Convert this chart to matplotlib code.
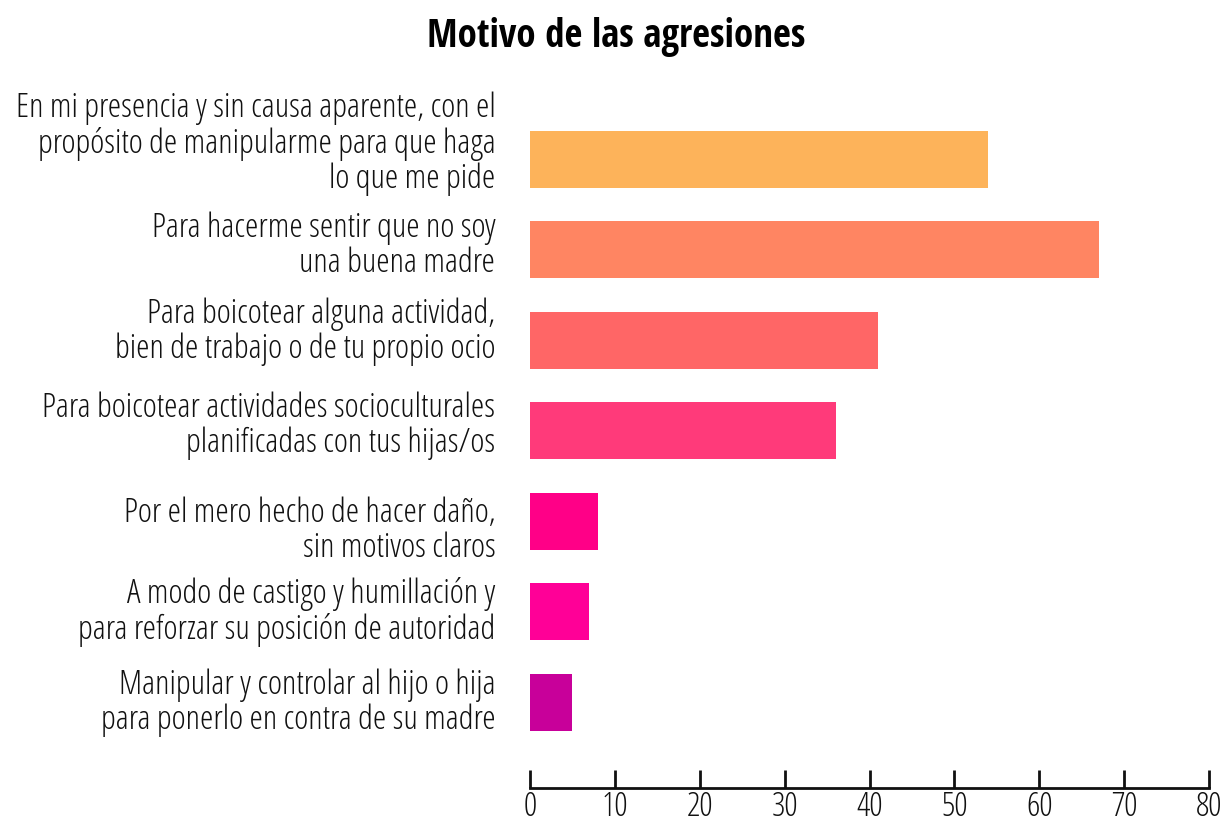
import matplotlib
matplotlib.use("Agg")
import matplotlib.pyplot as plt
import numpy as np

# Motivo de las agresiones - horizontal bars
labels = [
    "En mi presencia y sin causa aparente, con el\npropósito de manipularme para que haga\nlo que me pide",
    "Para hacerme sentir que no soy\nuna buena madre",
    "Para boicotear alguna actividad,\nbien de trabajo o de tu propio ocio",
    "Para boicotear actividades socioculturales\nplanificadas con tus hijas/os",
    "Por el mero hecho de hacer daño,\nsin motivos claros",
    "A modo de castigo y humillación y\npara reforzar su posición de autoridad",
    "Manipular y controlar al hijo o hija\npara ponerlo en contra de su madre",
]
values = [54, 67, 41, 36, 8, 7, 5]
colors = ["#FDB35A", "#FF8562", "#FF6666", "#FF3A7A", "#FF0087", "#FF0097", "#C8009A"]
ticks = [0, 10, 20, 30, 40, 50, 60, 70, 80]

# small vertical nudges (points) of the category labels, as in the original
label_nudge = [11, 3, 6, 4, -7, 0, 0]

light = dict(family="Open Sans", weight=300, stretch="condensed")

fig = plt.figure(figsize=(12.23, 8.23), dpi=100)
ax = fig.add_axes([530 / 1223, 1 - 788 / 823, 679 / 1223, (788 - 105) / 823])

y = np.arange(len(values))[::-1]
ax.barh(y, values, height=0.63, color=colors)

ax.set_xlim(0, 80)
ax.set_ylim(-0.945, 6.6)
ax.set_xticks(ticks)
ax.set_yticks([])
for yi, lab, dy in zip(y, labels, label_nudge):
    ax.annotate(lab, xy=(0, yi), xycoords=ax.get_yaxis_transform(),
                xytext=(-25, dy), textcoords="offset points",
                ha="right", va="center", fontsize=24.5, linespacing=1.06,
                color="#111111", **light)
for t in ax.get_xticklabels():
    t.set_fontproperties(matplotlib.font_manager.FontProperties(size=24, **light))

for s in ["top", "right", "left"]:
    ax.spines[s].set_visible(False)
ax.spines["bottom"].set_linewidth(2)
ax.spines["bottom"].set_color("#111111")
ax.tick_params(axis="x", direction="in", length=13, width=2, color="#111111",
               labelcolor="#111111", pad=2)

fig.text(0.5035, 0.955, "Motivo de las agresiones", ha="center", va="center",
         family="Open Sans Condensed", weight="bold", fontsize=28)

fig.savefig("out.png")
